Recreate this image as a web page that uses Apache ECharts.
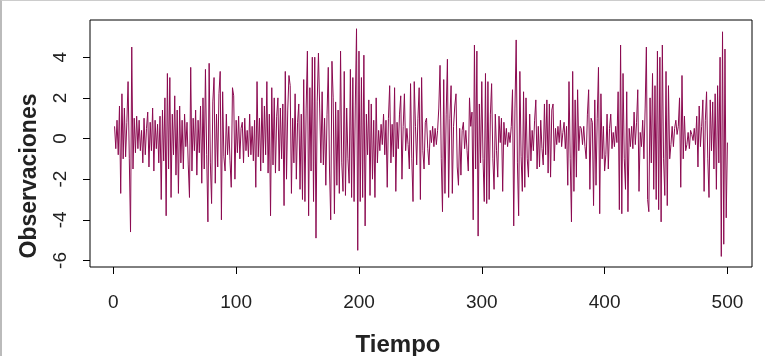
<!DOCTYPE html>
<html>
<head>
<meta charset="utf-8">
<script src="https://cdn.jsdelivr.net/npm/echarts@6/dist/echarts.min.js"></script>
<style>
  html, body { margin: 0; padding: 0; background: #fff; }
  #chart { width: 765px; height: 356px; box-sizing: border-box; border-left: 2px solid #bbb; border-top: 1px solid #ccc; }
</style>
</head>
<body>
<div id="chart"></div>
<script>
// observaciones (t = 1..500)
const observaciones = [
  0.6, -0.5, 0.9, -0.8, 1.6, -2.7, 2.2, -1.0, 1.5, -0.9,
  0.8, 2.8, -1.0, -4.6, 4.5, -1.5, 1.0, -0.7, 1.1, -0.5,
  0.9, -0.6, 0.4, -1.2, 1.0, -0.8, 0.5, 1.3, -1.4, 0.8,
  -0.6, 1.5, -1.6, 0.9, -0.5, 0.7, -1.2, 1.1, -3.0, 1.4,
  -1.1, 2.0, -3.8, 3.2, -1.5, 3.0, -2.9, 1.2, -0.8, 2.1,
  -1.8, 1.4, -2.7, 1.6, -1.2, 0.9, -1.5, 1.2, -0.4, 0.8,
  -1.3, -2.9, 3.5, -1.6, 1.0, -0.6, 1.4, -1.8, 0.9, -0.7,
  1.6, -2.2, 2.0, -1.5, 3.4, -0.8, -4.1, 3.7, -1.2, -3.2,
  1.8, 3.0, -2.2, 1.2, -1.4, 2.2, 3.3, -4.0, 2.3, -0.9,
  -1.6, 1.2, -0.8, 0.6, -1.1, -2.4, 2.5, 2.1, -2.0, 0.9,
  -0.7, 1.1, -1.0, 0.5, 0.8, -1.2, 1.0, -0.6, 0.4, -0.9,
  1.2, -0.8, 0.6, -1.1, 0.9, -2.4, 2.8, -0.9, 1.0, -1.6,
  2.0, -1.2, 1.6, -0.8, 2.8, -1.7, 1.2, -3.8, 2.5, -1.3,
  2.0, -1.7, 1.1, 2.0, -1.6, 1.5, -1.0, 1.7, -3.3, 3.3,
  -2.0, 1.4, 3.1, 2.6, -2.7, 1.0, -1.2, 2.2, -2.0, 0.8,
  1.7, -2.5, 1.2, -3.0, 2.9, -3.1, 1.5, 4.3, -3.8, 2.5,
  -1.6, 4.0, -3.1, 4.0, -4.9, 1.8, 4.2, 1.5, -1.2, 2.3,
  -1.3, 1.0, -2.3, 1.2, 3.5, -1.5, -4.0, 3.8, 2.0, -3.7,
  1.8, -2.3, 1.4, -2.7, 4.3, -1.2, -2.6, 3.3, -2.8, 1.5,
  -1.0, -2.2, 3.4, -2.9, 3.0, -3.1, 1.6, 5.4, -5.5, 4.3,
  -3.1, 3.0, -2.9, 4.1, -4.3, 1.2, -0.8, 1.9, -2.8, 1.7,
  -2.0, 0.9, -2.9, 2.0, -1.2, 0.4, -0.6, 0.7, -0.3, 1.2,
  -0.8, 0.9, -2.4, 1.0, 2.6, -1.2, 0.7, -0.9, 2.5, -2.6,
  0.8, -0.5, 1.2, 2.1, -2.0, 0.6, 2.2, -0.6, 0.5, -0.3,
  -1.5, 2.7, -1.0, -3.1, 2.8, 0.6, -1.3, 1.0, 2.5, -3.0,
  3.0, -0.6, -1.5, 0.8, 1.0, -0.5, -1.3, 0.4, -0.2, 0.6,
  -0.4, 0.5, -0.3, 0.4, 1.5, 3.6, -1.0, -3.6, 2.9, -2.7,
  1.2, 3.9, -2.9, 1.0, 2.6, -2.7, 0.6, 1.6, 2.2, -1.4,
  -2.3, 0.5, -1.8, 0.4, 0.8, -0.5, 0.4, -0.6, -1.6, 2.0,
  0.6, 1.3, -4.0, 4.6, -1.5, 4.3, -4.8, 1.7, -1.2, 2.8,
  -1.0, -3.1, 3.2, -3.2, 2.8, -3.0, 1.2, 2.7, -1.0, -2.5,
  1.2, -0.6, -1.9, 1.1, -0.2, 1.0, -2.6, 0.8, -0.3, 0.5,
  -0.4, 0.3, -0.2, 0.6, 2.4, -4.3, 1.5, 4.85, -1.2, -3.8,
  3.3, -0.9, -2.6, 2.3, -2.4, 2.0, -1.0, -1.9, 1.2, -1.1,
  0.4, -0.6, 0.9, 1.9, -1.5, 0.6, -1.4, 0.9, -0.5, -1.3,
  1.7, -0.8, 1.9, -1.7, 1.7, -1.9, 1.4, 1.7, -1.1, 0.5,
  -0.3, 0.6, -0.2, 0.9, -0.4, 0.3, 0.8, -0.5, 0.6, -2.3,
  2.8, -1.0, -4.1, 3.3, -2.6, 1.9, -1.9, 2.4, -0.6, 0.6,
  0.5, -0.3, 0.6, -0.4, -1.0, 1.2, 2.4, -2.5, 1.0, 0.8,
  -3.3, 1.9, -2.3, 1.0, 3.5, -3.7, 2.2, -1.0, 0.6, -1.6,
  -0.8, 1.2, -1.5, 0.5, 1.2, -0.5, 0.3, -0.4, 0.6, -0.2,
  2.3, -3.5, 4.6, -3.7, 3.2, -1.0, -2.5, 2.3, -3.6, 0.5,
  -0.4, 0.6, -0.5, 1.3, -0.3, 0.8, 2.4, -2.6, 0.3, -0.4,
  0.9, -1.0, 1.5, 4.5, -3.0, -3.6, 2.0, -1.2, 3.2, -2.5,
  2.6, -3.0, 4.3, -3.5, 4.0, -4.1, 4.6, -1.0, -2.8, 3.3,
  -3.3, 2.6, -1.0, -0.3, 0.6, -0.4, 0.5, 0.9, 0.2, 0.6,
  2.0, -2.4, 3.1, -1.0, 1.1, -0.6, -0.3, 0.3, -0.5, 0.4,
  0.2, -0.1, 0.5, -0.3, 1.1, -1.4, 1.6, -0.4, 0.6, 1.9,
  -2.6, 0.9, 2.3, -1.0, -2.9, 1.9, -0.6, 1.8, -1.5, 2.2,
  -2.5, 2.6, -1.2, 4.0, -5.8, 5.25, -5.2, 4.4, -3.9, -0.2
];
const ticksX = [0, 100, 200, 300, 400, 500];
const ticksY = [-6, -4, -2, 0, 2, 4];

const puntos = observaciones.map((v, i) => [i + 1, v]);

const chart = echarts.init(document.getElementById('chart'));
const fuente = 'Liberation Sans, Arial, sans-serif';

chart.setOption({
  animation: false,
  grid: {
    left: 88, right: 13, top: 19, bottom: 89,
    show: true, borderColor: '#000', borderWidth: 1, backgroundColor: 'transparent'
  },
  xAxis: {
    type: 'value', min: -19, max: 520,
    splitLine: { show: false },
    axisLine: { show: false, onZero: false },
    axisTick: { show: true, length: 7, inside: false, customValues: ticksX, lineStyle: { color: '#000' } },
    axisLabel: { customValues: ticksX, margin: 26, fontSize: 19, color: '#222', fontFamily: fuente }
  },
  yAxis: {
    type: 'value', min: -6.32, max: 5.83,
    splitLine: { show: false },
    axisLine: { show: false, onZero: false },
    axisTick: { show: true, length: 7, inside: false, customValues: ticksY, lineStyle: { color: '#000' } },
    axisLabel: { customValues: ticksY, margin: 20, fontSize: 19, color: '#222', rotate: 90, fontFamily: fuente }
  },
  graphic: [
    {
      type: 'text', x: 396, y: 344,
      style: { text: 'Tiempo', font: 'bold 24px ' + fuente, fill: '#222', textAlign: 'center', textVerticalAlign: 'middle' }
    },
    {
      type: 'text', x: 28, y: 175, rotation: Math.PI / 2,
      style: { text: 'Observaciones', font: 'bold 23px ' + fuente, fill: '#222', textAlign: 'center', textVerticalAlign: 'middle' }
    }
  ],
  series: [{
    type: 'line',
    data: puntos,
    showSymbol: false,
    lineStyle: { color: '#8B0A50', width: 1 }
  }]
});
</script>
</body>
</html>
